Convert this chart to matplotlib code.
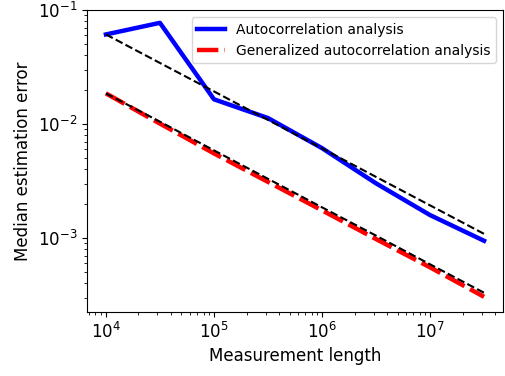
import matplotlib
matplotlib.use("Agg")
import matplotlib.pyplot as plt

N = [1e4, 3.16e4, 1e5, 3.16e5, 1e6, 3.16e6, 1e7, 3.16e7]
auto_err = [0.0612, 0.0774, 0.0165, 0.0113, 0.00615, 0.00302, 0.00159, 0.000946]
gen_err = [0.0186, 0.0101, 0.00553, 0.00311, 0.00175, 0.00098, 0.000553, 0.000305]
auto_ref = [0.0612, 0.0344, 0.01935, 0.01088, 0.00612, 0.00344, 0.001935, 0.001088]
gen_ref = [0.0186, 0.0105, 0.00588, 0.00331, 0.00186, 0.00105, 0.000588, 0.000331]

fig = plt.figure(figsize=(5.06, 3.76), dpi=100)
ax = fig.add_axes([0.172, 0.170, 0.822, 0.803])

ax.plot(N, auto_err, color="blue", lw=3.2, label="Autocorrelation analysis")
ax.plot(N, gen_err, color="red", lw=3.2, dashes=(4.8, 1.4), label="Generalized autocorrelation analysis")
ax.plot(N, auto_ref, color="black", lw=1.5, ls="--")
ax.plot(N, gen_ref, color="black", lw=1.5, ls="--")

ax.set_xscale("log")
ax.set_yscale("log")
ax.set_ylim(2.24e-4, 1e-1)
ax.set_xlabel("Measurement length", fontsize=12)
ax.set_ylabel("Median estimation error", fontsize=12)
ax.tick_params(labelsize=12)
ax.legend(loc="upper right", fontsize=10, handlelength=2.0)

fig.savefig("out.png", dpi=100)
